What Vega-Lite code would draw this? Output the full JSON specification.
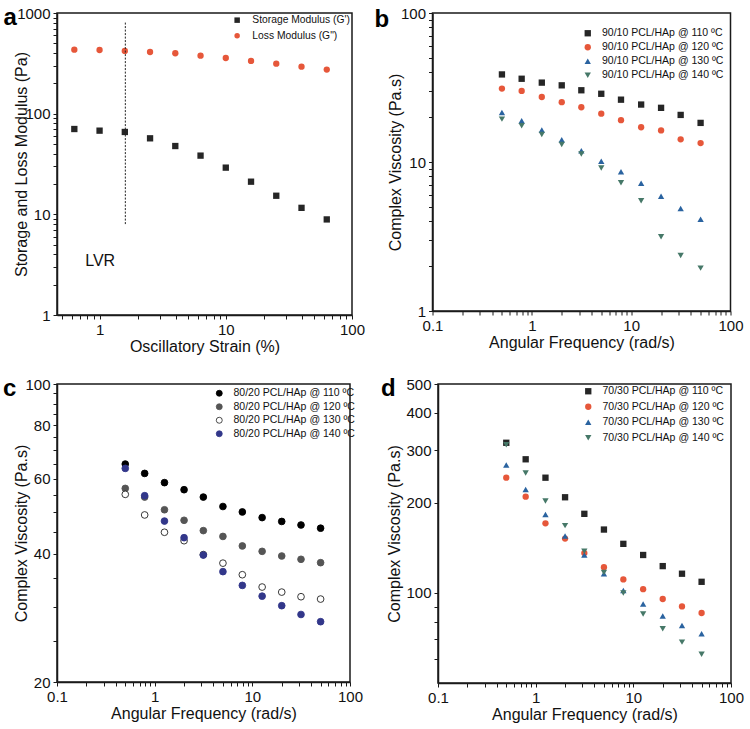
{
  "$schema": "https://vega.github.io/schema/vega-lite/v6.json",
  "padding": {"left": 2, "top": 5, "right": 0, "bottom": 0},
  "background": "white",
  "spacing": 21,
  "resolve": {"scale": {"color": "independent", "shape": "independent", "fill": "independent", "stroke": "independent"}, "legend": {"color": "independent", "shape": "independent", "fill": "independent", "stroke": "independent"}},
  "config": {
    "font": "Liberation Sans",
    "view": {"stroke": "#1a1a1a", "strokeWidth": 1.5},
    "axis": {
      "labelFont": "Liberation Sans", "labelFontSize": 15, "labelColor": "#111", "labelFlush": false,
      "titleFont": "Liberation Sans", "titleFontSize": 16, "titleFontWeight": "normal", "titleColor": "#111",
      "domainColor": "#1a1a1a", "domainWidth": 1.5, "ticks": true, "tickColor": "#1a1a1a", "tickWidth": 1, "tickSize": 4, "tickOpacity": 1, "grid": false,
      "labelPadding": 3, "titlePadding": 1
    },
    "legend": {"labelFont": "Liberation Sans", "labelColor": "#111", "padding": 0, "symbolStrokeWidth": 0.8},
    "title": {"font": "Liberation Sans", "fontSize": 24, "fontWeight": "bold", "color": "#000", "anchor": "start", "frame": "group"}
  },
  "datasets": {
    "a": [
      {"strain": 0.631, "mod": 70.4, "s": "Storage Modulus (G')"},
      {"strain": 1.0, "mod": 67.8, "s": "Storage Modulus (G')"},
      {"strain": 1.585, "mod": 65.8, "s": "Storage Modulus (G')"},
      {"strain": 2.512, "mod": 56.9, "s": "Storage Modulus (G')"},
      {"strain": 3.981, "mod": 47.7, "s": "Storage Modulus (G')"},
      {"strain": 6.31, "mod": 38.3, "s": "Storage Modulus (G')"},
      {"strain": 10.0, "mod": 29.1, "s": "Storage Modulus (G')"},
      {"strain": 15.85, "mod": 21.1, "s": "Storage Modulus (G')"},
      {"strain": 25.12, "mod": 15.3, "s": "Storage Modulus (G')"},
      {"strain": 39.81, "mod": 11.6, "s": "Storage Modulus (G')"},
      {"strain": 63.1, "mod": 8.9, "s": "Storage Modulus (G')"},
      {"strain": 0.631, "mod": 432, "s": "Loss Modulus (G\")"},
      {"strain": 1.0, "mod": 429, "s": "Loss Modulus (G\")"},
      {"strain": 1.585, "mod": 420, "s": "Loss Modulus (G\")"},
      {"strain": 2.512, "mod": 410, "s": "Loss Modulus (G\")"},
      {"strain": 3.981, "mod": 398, "s": "Loss Modulus (G\")"},
      {"strain": 6.31, "mod": 377, "s": "Loss Modulus (G\")"},
      {"strain": 10.0, "mod": 357, "s": "Loss Modulus (G\")"},
      {"strain": 15.85, "mod": 334, "s": "Loss Modulus (G\")"},
      {"strain": 25.12, "mod": 314, "s": "Loss Modulus (G\")"},
      {"strain": 39.81, "mod": 293, "s": "Loss Modulus (G\")"},
      {"strain": 63.1, "mod": 274, "s": "Loss Modulus (G\")"}
    ],
    "aline": [{"strain": 1.6, "lo": 8, "hi": 820}],
    "atext": [{"strain": 0.77, "mod": 3.4, "label": "LVR"}],
    "b": [
      {"f": 0.5, "v": 38.7, "s": "90/10 PCL/HAp @ 110 ºC"},
      {"f": 0.79, "v": 36.2, "s": "90/10 PCL/HAp @ 110 ºC"},
      {"f": 1.26, "v": 34.1, "s": "90/10 PCL/HAp @ 110 ºC"},
      {"f": 2.0, "v": 32.7, "s": "90/10 PCL/HAp @ 110 ºC"},
      {"f": 3.15, "v": 30.3, "s": "90/10 PCL/HAp @ 110 ºC"},
      {"f": 5.0, "v": 28.7, "s": "90/10 PCL/HAp @ 110 ºC"},
      {"f": 7.9, "v": 26.2, "s": "90/10 PCL/HAp @ 110 ºC"},
      {"f": 12.6, "v": 24.3, "s": "90/10 PCL/HAp @ 110 ºC"},
      {"f": 20.0, "v": 23.1, "s": "90/10 PCL/HAp @ 110 ºC"},
      {"f": 31.5, "v": 20.7, "s": "90/10 PCL/HAp @ 110 ºC"},
      {"f": 50.0, "v": 18.3, "s": "90/10 PCL/HAp @ 110 ºC"},
      {"f": 0.5, "v": 31.1, "s": "90/10 PCL/HAp @ 120 ºC"},
      {"f": 0.79, "v": 30.0, "s": "90/10 PCL/HAp @ 120 ºC"},
      {"f": 1.26, "v": 27.3, "s": "90/10 PCL/HAp @ 120 ºC"},
      {"f": 2.0, "v": 25.2, "s": "90/10 PCL/HAp @ 120 ºC"},
      {"f": 3.15, "v": 23.3, "s": "90/10 PCL/HAp @ 120 ºC"},
      {"f": 5.0, "v": 21.1, "s": "90/10 PCL/HAp @ 120 ºC"},
      {"f": 7.9, "v": 19.1, "s": "90/10 PCL/HAp @ 120 ºC"},
      {"f": 12.6, "v": 17.1, "s": "90/10 PCL/HAp @ 120 ºC"},
      {"f": 20.0, "v": 16.3, "s": "90/10 PCL/HAp @ 120 ºC"},
      {"f": 31.5, "v": 14.2, "s": "90/10 PCL/HAp @ 120 ºC"},
      {"f": 50.0, "v": 13.4, "s": "90/10 PCL/HAp @ 120 ºC"},
      {"f": 0.5, "v": 21.5, "s": "90/10 PCL/HAp @ 130 ºC"},
      {"f": 0.79, "v": 18.9, "s": "90/10 PCL/HAp @ 130 ºC"},
      {"f": 1.26, "v": 16.4, "s": "90/10 PCL/HAp @ 130 ºC"},
      {"f": 2.0, "v": 14.1, "s": "90/10 PCL/HAp @ 130 ºC"},
      {"f": 3.15, "v": 11.9, "s": "90/10 PCL/HAp @ 130 ºC"},
      {"f": 5.0, "v": 10.1, "s": "90/10 PCL/HAp @ 130 ºC"},
      {"f": 7.9, "v": 8.6, "s": "90/10 PCL/HAp @ 130 ºC"},
      {"f": 12.6, "v": 7.2, "s": "90/10 PCL/HAp @ 130 ºC"},
      {"f": 20.0, "v": 5.9, "s": "90/10 PCL/HAp @ 130 ºC"},
      {"f": 31.5, "v": 4.87, "s": "90/10 PCL/HAp @ 130 ºC"},
      {"f": 50.0, "v": 4.13, "s": "90/10 PCL/HAp @ 130 ºC"},
      {"f": 0.5, "v": 19.4, "s": "90/10 PCL/HAp @ 140 ºC"},
      {"f": 0.79, "v": 17.5, "s": "90/10 PCL/HAp @ 140 ºC"},
      {"f": 1.26, "v": 15.3, "s": "90/10 PCL/HAp @ 140 ºC"},
      {"f": 2.0, "v": 13.1, "s": "90/10 PCL/HAp @ 140 ºC"},
      {"f": 3.15, "v": 11.3, "s": "90/10 PCL/HAp @ 140 ºC"},
      {"f": 5.0, "v": 9.1, "s": "90/10 PCL/HAp @ 140 ºC"},
      {"f": 7.9, "v": 7.25, "s": "90/10 PCL/HAp @ 140 ºC"},
      {"f": 12.6, "v": 5.5, "s": "90/10 PCL/HAp @ 140 ºC"},
      {"f": 20.0, "v": 3.15, "s": "90/10 PCL/HAp @ 140 ºC"},
      {"f": 31.5, "v": 2.36, "s": "90/10 PCL/HAp @ 140 ºC"},
      {"f": 50.0, "v": 1.94, "s": "90/10 PCL/HAp @ 140 ºC"}
    ],
    "c": [
      {"f": 0.5, "v": 64.9, "s": "80/20 PCL/HAp @ 110 ºC"},
      {"f": 0.79, "v": 61.7, "s": "80/20 PCL/HAp @ 110 ºC"},
      {"f": 1.26, "v": 58.7, "s": "80/20 PCL/HAp @ 110 ºC"},
      {"f": 2.0, "v": 56.5, "s": "80/20 PCL/HAp @ 110 ºC"},
      {"f": 3.15, "v": 54.3, "s": "80/20 PCL/HAp @ 110 ºC"},
      {"f": 5.0, "v": 51.6, "s": "80/20 PCL/HAp @ 110 ºC"},
      {"f": 7.9, "v": 50.1, "s": "80/20 PCL/HAp @ 110 ºC"},
      {"f": 12.6, "v": 48.6, "s": "80/20 PCL/HAp @ 110 ºC"},
      {"f": 20.0, "v": 47.6, "s": "80/20 PCL/HAp @ 110 ºC"},
      {"f": 31.5, "v": 46.7, "s": "80/20 PCL/HAp @ 110 ºC"},
      {"f": 50.0, "v": 45.9, "s": "80/20 PCL/HAp @ 110 ºC"},
      {"f": 0.5, "v": 56.9, "s": "80/20 PCL/HAp @ 120 ºC"},
      {"f": 0.79, "v": 54.3, "s": "80/20 PCL/HAp @ 120 ºC"},
      {"f": 1.26, "v": 50.7, "s": "80/20 PCL/HAp @ 120 ºC"},
      {"f": 2.0, "v": 47.9, "s": "80/20 PCL/HAp @ 120 ºC"},
      {"f": 3.15, "v": 45.3, "s": "80/20 PCL/HAp @ 120 ºC"},
      {"f": 5.0, "v": 43.9, "s": "80/20 PCL/HAp @ 120 ºC"},
      {"f": 7.9, "v": 41.7, "s": "80/20 PCL/HAp @ 120 ºC"},
      {"f": 12.6, "v": 40.5, "s": "80/20 PCL/HAp @ 120 ºC"},
      {"f": 20.0, "v": 39.5, "s": "80/20 PCL/HAp @ 120 ºC"},
      {"f": 31.5, "v": 38.8, "s": "80/20 PCL/HAp @ 120 ºC"},
      {"f": 50.0, "v": 38.1, "s": "80/20 PCL/HAp @ 120 ºC"},
      {"f": 0.5, "v": 55.1, "s": "80/20 PCL/HAp @ 130 ºC"},
      {"f": 0.79, "v": 49.3, "s": "80/20 PCL/HAp @ 130 ºC"},
      {"f": 1.26, "v": 44.9, "s": "80/20 PCL/HAp @ 130 ºC"},
      {"f": 2.0, "v": 42.9, "s": "80/20 PCL/HAp @ 130 ºC"},
      {"f": 3.15, "v": 39.8, "s": "80/20 PCL/HAp @ 130 ºC"},
      {"f": 5.0, "v": 38.0, "s": "80/20 PCL/HAp @ 130 ºC"},
      {"f": 7.9, "v": 35.7, "s": "80/20 PCL/HAp @ 130 ºC"},
      {"f": 12.6, "v": 33.4, "s": "80/20 PCL/HAp @ 130 ºC"},
      {"f": 20.0, "v": 32.5, "s": "80/20 PCL/HAp @ 130 ºC"},
      {"f": 31.5, "v": 31.7, "s": "80/20 PCL/HAp @ 130 ºC"},
      {"f": 50.0, "v": 31.3, "s": "80/20 PCL/HAp @ 130 ºC"},
      {"f": 0.5, "v": 63.4, "s": "80/20 PCL/HAp @ 140 ºC"},
      {"f": 0.79, "v": 54.7, "s": "80/20 PCL/HAp @ 140 ºC"},
      {"f": 1.26, "v": 47.7, "s": "80/20 PCL/HAp @ 140 ºC"},
      {"f": 2.0, "v": 43.6, "s": "80/20 PCL/HAp @ 140 ºC"},
      {"f": 3.15, "v": 39.7, "s": "80/20 PCL/HAp @ 140 ºC"},
      {"f": 5.0, "v": 36.3, "s": "80/20 PCL/HAp @ 140 ºC"},
      {"f": 7.9, "v": 33.7, "s": "80/20 PCL/HAp @ 140 ºC"},
      {"f": 12.6, "v": 31.8, "s": "80/20 PCL/HAp @ 140 ºC"},
      {"f": 20.0, "v": 30.2, "s": "80/20 PCL/HAp @ 140 ºC"},
      {"f": 31.5, "v": 28.8, "s": "80/20 PCL/HAp @ 140 ºC"},
      {"f": 50.0, "v": 27.7, "s": "80/20 PCL/HAp @ 140 ºC"}
    ],
    "d": [
      {"f": 0.5, "v": 318, "s": "70/30 PCL/HAp @ 110 ºC"},
      {"f": 0.79, "v": 280, "s": "70/30 PCL/HAp @ 110 ºC"},
      {"f": 1.26, "v": 243, "s": "70/30 PCL/HAp @ 110 ºC"},
      {"f": 2.0, "v": 209, "s": "70/30 PCL/HAp @ 110 ºC"},
      {"f": 3.15, "v": 184, "s": "70/30 PCL/HAp @ 110 ºC"},
      {"f": 5.0, "v": 163, "s": "70/30 PCL/HAp @ 110 ºC"},
      {"f": 7.9, "v": 146, "s": "70/30 PCL/HAp @ 110 ºC"},
      {"f": 12.6, "v": 134, "s": "70/30 PCL/HAp @ 110 ºC"},
      {"f": 20.0, "v": 123, "s": "70/30 PCL/HAp @ 110 ºC"},
      {"f": 31.5, "v": 116, "s": "70/30 PCL/HAp @ 110 ºC"},
      {"f": 50.0, "v": 109, "s": "70/30 PCL/HAp @ 110 ºC"},
      {"f": 0.5, "v": 243, "s": "70/30 PCL/HAp @ 120 ºC"},
      {"f": 0.79, "v": 210, "s": "70/30 PCL/HAp @ 120 ºC"},
      {"f": 1.26, "v": 171, "s": "70/30 PCL/HAp @ 120 ºC"},
      {"f": 2.0, "v": 152, "s": "70/30 PCL/HAp @ 120 ºC"},
      {"f": 3.15, "v": 136, "s": "70/30 PCL/HAp @ 120 ºC"},
      {"f": 5.0, "v": 122, "s": "70/30 PCL/HAp @ 120 ºC"},
      {"f": 7.9, "v": 111, "s": "70/30 PCL/HAp @ 120 ºC"},
      {"f": 12.6, "v": 103, "s": "70/30 PCL/HAp @ 120 ºC"},
      {"f": 20.0, "v": 95.5, "s": "70/30 PCL/HAp @ 120 ºC"},
      {"f": 31.5, "v": 90.2, "s": "70/30 PCL/HAp @ 120 ºC"},
      {"f": 50.0, "v": 85.7, "s": "70/30 PCL/HAp @ 120 ºC"},
      {"f": 0.5, "v": 268, "s": "70/30 PCL/HAp @ 130 ºC"},
      {"f": 0.79, "v": 222, "s": "70/30 PCL/HAp @ 130 ºC"},
      {"f": 1.26, "v": 183, "s": "70/30 PCL/HAp @ 130 ºC"},
      {"f": 2.0, "v": 155, "s": "70/30 PCL/HAp @ 130 ºC"},
      {"f": 3.15, "v": 134, "s": "70/30 PCL/HAp @ 130 ºC"},
      {"f": 5.0, "v": 116, "s": "70/30 PCL/HAp @ 130 ºC"},
      {"f": 7.9, "v": 102, "s": "70/30 PCL/HAp @ 130 ºC"},
      {"f": 12.6, "v": 91.8, "s": "70/30 PCL/HAp @ 130 ºC"},
      {"f": 20.0, "v": 83.8, "s": "70/30 PCL/HAp @ 130 ºC"},
      {"f": 31.5, "v": 77.8, "s": "70/30 PCL/HAp @ 130 ºC"},
      {"f": 50.0, "v": 73.1, "s": "70/30 PCL/HAp @ 130 ºC"},
      {"f": 0.5, "v": 313, "s": "70/30 PCL/HAp @ 140 ºC"},
      {"f": 0.79, "v": 252, "s": "70/30 PCL/HAp @ 140 ºC"},
      {"f": 1.26, "v": 203, "s": "70/30 PCL/HAp @ 140 ºC"},
      {"f": 2.0, "v": 168, "s": "70/30 PCL/HAp @ 140 ºC"},
      {"f": 3.15, "v": 138, "s": "70/30 PCL/HAp @ 140 ºC"},
      {"f": 5.0, "v": 117, "s": "70/30 PCL/HAp @ 140 ºC"},
      {"f": 7.9, "v": 100, "s": "70/30 PCL/HAp @ 140 ºC"},
      {"f": 12.6, "v": 85.1, "s": "70/30 PCL/HAp @ 140 ºC"},
      {"f": 20.0, "v": 75.9, "s": "70/30 PCL/HAp @ 140 ºC"},
      {"f": 31.5, "v": 68.5, "s": "70/30 PCL/HAp @ 140 ºC"},
      {"f": 50.0, "v": 62.4, "s": "70/30 PCL/HAp @ 140 ºC"}
    ]
  },
  "vconcat": [
    {
      "spacing": 7.5,
      "resolve": {"scale": {"color": "independent", "shape": "independent"}, "legend": {"color": "independent", "shape": "independent"}},
      "hconcat": [
        {
          "width": 295, "height": 302,
          "title": {"text": "a", "dx": -53.5, "offset": -9, "dy": 15},
          "layer": [
            {
              "data": {"name": "a"},
              "mark": {"type": "point", "filled": true, "size": 40, "opacity": 1},
              "encoding": {
                "x": {"field": "strain", "type": "quantitative",
                  "scale": {"type": "log", "domain": [0.46, 100], "nice": false},
                  "axis": {"title": "Oscillatory Strain (%)", "format": "~g",
                    "values": [0.5,0.6,0.7,0.8,0.9,1,2,3,4,5,6,7,8,9,10,20,30,40,50,60,70,80,90,100],
                    "labelExpr": "(datum.value==1||datum.value==10||datum.value==100) ? datum.label : ''"}},
                "y": {"field": "mod", "type": "quantitative",
                  "scale": {"type": "log", "domain": [1, 1000], "nice": false},
                  "axis": {"title": "Storage and Loss Modulus (Pa)", "format": "~g",
                    "values": [1,2,3,4,5,6,7,8,9,10,20,30,40,50,60,70,80,90,100,200,300,400,500,600,700,800,900,1000],
                    "labelExpr": "(datum.value==1||datum.value==10||datum.value==100||datum.value==1000) ? datum.label : ''",
                    "titlePadding": -13}},
                "color": {"field": "s", "type": "nominal",
                  "scale": {"domain": ["Storage Modulus (G')", "Loss Modulus (G\")"], "range": ["#262626", "#e6573a"]},
                  "legend": {"orient": "none", "legendX": 175, "legendY": 2, "title": null, "labelFontSize": 10.3, "symbolSize": 30, "rowPadding": 4.5, "labelOffset": 10}},
                "shape": {"field": "s", "type": "nominal",
                  "scale": {"domain": ["Storage Modulus (G')", "Loss Modulus (G\")"], "range": ["square", "circle"]}}
              }
            },
            {
              "data": {"name": "aline"},
              "mark": {"type": "rule", "strokeDash": [2, 1.5], "color": "#222", "strokeWidth": 1},
              "encoding": {"x": {"field": "strain", "type": "quantitative"}, "y": {"field": "lo", "type": "quantitative"}, "y2": {"field": "hi"}}
            },
            {
              "data": {"name": "atext"},
              "mark": {"type": "text", "fontSize": 16, "align": "left", "baseline": "middle", "color": "#111"},
              "encoding": {"x": {"field": "strain", "type": "quantitative"}, "y": {"field": "mod", "type": "quantitative"}, "text": {"field": "label"}}
            }
          ]
        },
        {
          "width": 298, "height": 298,
          "title": {"text": "b", "dx": -58, "offset": -9, "dy": 17},
          "data": {"name": "b"},
          "mark": {"type": "point", "filled": true, "size": 40, "opacity": 1},
          "encoding": {
            "x": {"field": "f", "type": "quantitative",
              "scale": {"type": "log", "domain": [0.1, 100], "nice": false},
              "axis": {"title": "Angular Frequency (rad/s)", "format": "~g",
                "values": [0.1,0.2,0.3,0.4,0.5,0.6,0.7,0.8,0.9,1,2,3,4,5,6,7,8,9,10,20,30,40,50,60,70,80,90,100],
                "labelExpr": "(datum.value==0.1||datum.value==1||datum.value==10||datum.value==100) ? datum.label : ''"}},
            "y": {"field": "v", "type": "quantitative",
              "scale": {"type": "log", "domain": [1, 100], "nice": false},
              "axis": {"title": "Complex Viscosity (Pa.s)", "format": "~g",
                "values": [1,2,3,4,5,6,7,8,9,10,20,30,40,50,60,70,80,90,100],
                "labelExpr": "(datum.value==1||datum.value==10||datum.value==100) ? datum.label : ''",
                "titlePadding": -3}},
            "color": {"field": "s", "type": "nominal",
              "scale": {"domain": ["90/10 PCL/HAp @ 110 ºC", "90/10 PCL/HAp @ 120 ºC", "90/10 PCL/HAp @ 130 ºC", "90/10 PCL/HAp @ 140 ºC"], "range": ["#262626", "#e6573a", "#2a63a0", "#467868"]},
              "legend": {"orient": "none", "legendX": 150, "legendY": 15, "title": null, "labelFontSize": 10.5, "symbolSize": 40, "rowPadding": 3, "labelOffset": 9}},
            "shape": {"field": "s", "type": "nominal",
              "scale": {"domain": ["90/10 PCL/HAp @ 110 ºC", "90/10 PCL/HAp @ 120 ºC", "90/10 PCL/HAp @ 130 ºC", "90/10 PCL/HAp @ 140 ºC"], "range": ["square", "circle", "triangle-up", "triangle-down"]}}
          }
        }
      ]
    },
    {
      "spacing": 16,
      "resolve": {"scale": {"color": "independent", "shape": "independent", "fill": "independent", "stroke": "independent"}, "legend": {"color": "independent", "shape": "independent", "fill": "independent", "stroke": "independent"}},
      "hconcat": [
        {
          "width": 293, "height": 298,
          "title": {"text": "c", "dx": -54, "offset": -9, "dy": 15},
          "data": {"name": "c"},
          "mark": {"type": "point", "filled": true, "size": 45, "opacity": 1, "strokeWidth": 0.9},
          "encoding": {
            "x": {"field": "f", "type": "quantitative",
              "scale": {"type": "log", "domain": [0.1, 100], "nice": false},
              "axis": {"title": "Angular Frequency (rad/s)", "format": "~g",
                "values": [0.1,0.2,0.3,0.4,0.5,0.6,0.7,0.8,0.9,1,2,3,4,5,6,7,8,9,10,20,30,40,50,60,70,80,90,100],
                "labelExpr": "(datum.value==0.1||datum.value==1||datum.value==10||datum.value==100) ? datum.label : ''"}},
            "y": {"field": "v", "type": "quantitative",
              "scale": {"type": "log", "domain": [20, 100], "nice": false},
              "axis": {"title": "Complex Viscosity (Pa.s)", "format": "~g",
                "values": [20,25,30,35,40,45,50,55,60,65,70,75,80,85,90,95,100],
                "labelExpr": "(datum.value==20||datum.value==40||datum.value==60||datum.value==80||datum.value==100) ? datum.label : ''",
                "titlePadding": -5}},
            "fill": {"field": "s", "type": "nominal",
              "scale": {"domain": ["80/20 PCL/HAp @ 110 ºC", "80/20 PCL/HAp @ 120 ºC", "80/20 PCL/HAp @ 130 ºC", "80/20 PCL/HAp @ 140 ºC"], "range": ["#000000", "#555555", "#ffffff", "#32378a"]},
              "legend": {"orient": "none", "legendX": 157, "legendY": 4, "title": null, "labelFontSize": 10.5, "symbolSize": 36, "rowPadding": 2.5, "labelOffset": 9}},
            "stroke": {"field": "s", "type": "nominal",
              "scale": {"domain": ["80/20 PCL/HAp @ 110 ºC", "80/20 PCL/HAp @ 120 ºC", "80/20 PCL/HAp @ 130 ºC", "80/20 PCL/HAp @ 140 ºC"], "range": ["#000000", "#555555", "#222222", "#32378a"]},
              "legend": {"orient": "none", "legendX": 157, "legendY": 4, "title": null, "labelFontSize": 10.5, "symbolSize": 36, "rowPadding": 2.5, "labelOffset": 9}}
          }
        },
        {
          "width": 293, "height": 299,
          "title": {"text": "d", "dx": -57, "offset": -9, "dy": 15},
          "data": {"name": "d"},
          "mark": {"type": "point", "filled": true, "size": 40, "opacity": 1},
          "encoding": {
            "x": {"field": "f", "type": "quantitative",
              "scale": {"type": "log", "domain": [0.1, 100], "nice": false},
              "axis": {"title": "Angular Frequency (rad/s)", "format": "~g",
                "values": [0.1,0.2,0.3,0.4,0.5,0.6,0.7,0.8,0.9,1,2,3,4,5,6,7,8,9,10,20,30,40,50,60,70,80,90,100],
                "labelExpr": "(datum.value==0.1||datum.value==1||datum.value==10||datum.value==100) ? datum.label : ''"}},
            "y": {"field": "v", "type": "quantitative",
              "scale": {"type": "log", "domain": [50, 500], "nice": false},
              "axis": {"title": "Complex Viscosity (Pa.s)", "format": "~g",
                "values": [60,70,80,90,100,200,300,400,500],
                "labelExpr": "(datum.value>=100) ? datum.label : ''",
                "titlePadding": 3}},
            "color": {"field": "s", "type": "nominal",
              "scale": {"domain": ["70/30 PCL/HAp @ 110 ºC", "70/30 PCL/HAp @ 120 ºC", "70/30 PCL/HAp @ 130 ºC", "70/30 PCL/HAp @ 140 ºC"], "range": ["#262626", "#e6573a", "#2a63a0", "#467868"]},
              "legend": {"orient": "none", "legendX": 145, "legendY": 2, "title": null, "labelFontSize": 10.5, "symbolSize": 40, "rowPadding": 4.5, "labelOffset": 9}},
            "shape": {"field": "s", "type": "nominal",
              "scale": {"domain": ["70/30 PCL/HAp @ 110 ºC", "70/30 PCL/HAp @ 120 ºC", "70/30 PCL/HAp @ 130 ºC", "70/30 PCL/HAp @ 140 ºC"], "range": ["square", "circle", "triangle-up", "triangle-down"]}}
          }
        }
      ]
    }
  ]
}
